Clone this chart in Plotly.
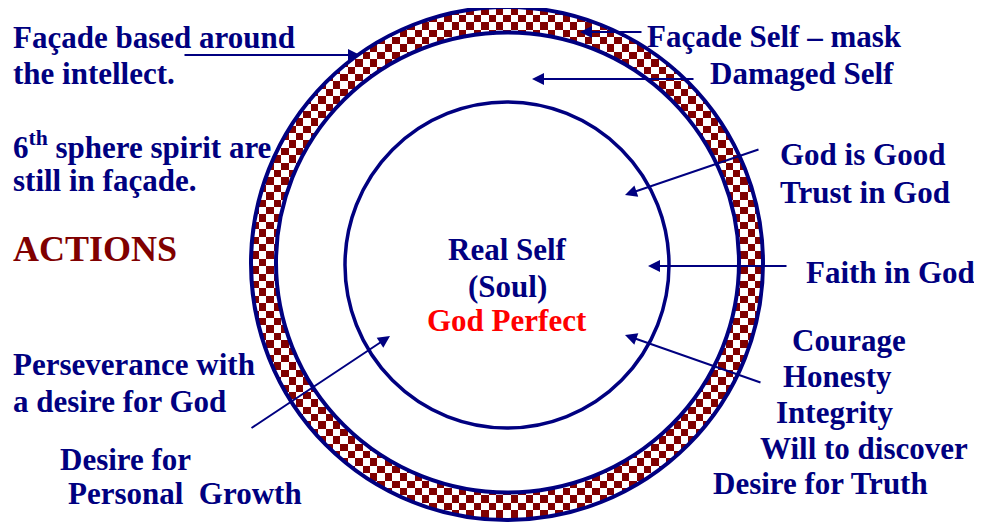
import numpy as np
import plotly.graph_objects as go

W, H = 982, 525
PAGE_MARGIN = 8  # default body margin of the html page
NAVY = "#000080"
MAROON = "#800000"
RED = "#FF0000"
FONT = "Liberation Serif, Times New Roman, serif"

# ---- ring geometry (pixel space) ----
outer_ring = dict(cx=507, cy=263.5, rx=256, ry=256.5)
band_inner = dict(cx=507.5, cy=262.5, rx=231.5, ry=230)
core_ring = dict(cx=507, cy=265, rx=162, ry=163)
checker_size = 7.4

# ---- labels ----
left_labels = ["Façade based around", "the intellect.",
               "6<sup>th</sup> sphere spirit are", "still in façade.",
               "Perseverance with", "a desire for God",
               "Desire for", "Personal  Growth"]
left_x = [11, 11, 11, 11, 11, 11, 58, 66]
left_y = [37, 73, 145, 180, 364, 401, 459, 493]

right_labels = ["Façade Self – mask", "Damaged Self",
                "God is Good", "Trust in God", "Faith in God",
                "Courage", "Honesty", "Integrity", "Will to discover",
                "Desire for Truth"]
right_x = [645, 708, 778, 778, 804, 790, 781, 774, 758, 711]
right_y = [36, 73, 154, 192, 272, 340, 376, 412, 448, 483]

center_labels = ["Real Self", "(Soul)", "God Perfect"]
center_colors = [NAVY, NAVY, RED]
center_y = [249, 286, 320]

heading = "ACTIONS"

# arrows: tail -> tip
arrow_tail = [(183, 55), (643, 32), (695, 79), (760, 149), (788, 266), (762, 383), (250, 429)]
arrow_tip = [(360, 55), (580, 32), (532, 79), (625, 195), (648, 266), (625, 335), (390, 336)]

fig = go.Figure()

# checkered band via heatmap
step = checker_size / 4
kx = np.arange(int(240 / step), int(775 / step))
ky = np.arange(0, int(H / step) + 1)
xs = (kx + 0.5) * step
ys = (ky + 0.5) * step
X, Y = np.meshgrid(xs, ys)
o = ((X - outer_ring["cx"]) / outer_ring["rx"]) ** 2 + ((Y - outer_ring["cy"]) / outer_ring["ry"]) ** 2
i = ((X - band_inner["cx"]) / band_inner["rx"]) ** 2 + ((Y - band_inner["cy"]) / band_inner["ry"]) ** 2
KX, KY = np.meshgrid(kx, ky)
checker = ((KX // 4) + (KY // 4)) % 2 == 0
z = np.where((o <= 1) & (i >= 1) & checker, 1.0, np.nan)
fig.add_trace(go.Heatmap(x=xs, y=ys, z=z, colorscale=[[0, MAROON], [1, MAROON]],
                         showscale=False, hoverinfo="skip", zsmooth=False))

for ring, lw in [(outer_ring, 4), (band_inner, 4), (core_ring, 3.5)]:
    fig.add_shape(type="circle", xref="x", yref="y",
                  x0=ring["cx"] - ring["rx"], x1=ring["cx"] + ring["rx"],
                  y0=ring["cy"] - ring["ry"], y1=ring["cy"] + ring["ry"],
                  line=dict(color=NAVY, width=lw), layer="above")

ann = []
for (tx, ty), (hx, hy) in zip(arrow_tail, arrow_tip):
    ann.append(dict(x=hx, y=hy, ax=tx, ay=ty, xref="x", yref="y", axref="x", ayref="y",
                    text="", showarrow=True, arrowhead=2, arrowsize=1.2, arrowwidth=2,
                    arrowcolor=NAVY, standoff=0, startstandoff=0))

def lab(t, x, y, color=NAVY, size=31, anchor="left"):
    return dict(x=x, y=y, xref="x", yref="y", text=t, showarrow=False,
                xanchor=anchor, yanchor="middle",
                font=dict(family=FONT, size=size, color=color, weight="bold"))

for t, x, y in zip(left_labels, left_x, left_y):
    ann.append(lab(t, x, y))
for t, x, y in zip(right_labels, right_x, right_y):
    ann.append(lab(t, x, y))
for t, c, y in zip(center_labels, center_colors, center_y):
    ann.append(lab(t, 507, y, color=c, anchor="center"))
ann.append(lab(heading, 11, 249, color=MAROON, size=36))

fig.update_layout(
    width=W - PAGE_MARGIN, height=H - PAGE_MARGIN, margin=dict(l=0, r=0, t=0, b=0),
    paper_bgcolor="white", plot_bgcolor="white",
    xaxis=dict(range=[PAGE_MARGIN, W], visible=False, fixedrange=True),
    yaxis=dict(range=[H, PAGE_MARGIN], visible=False, fixedrange=True),
    annotations=ann, showlegend=False,
)
fig.write_html("out.html", config={"displayModeBar": False})
